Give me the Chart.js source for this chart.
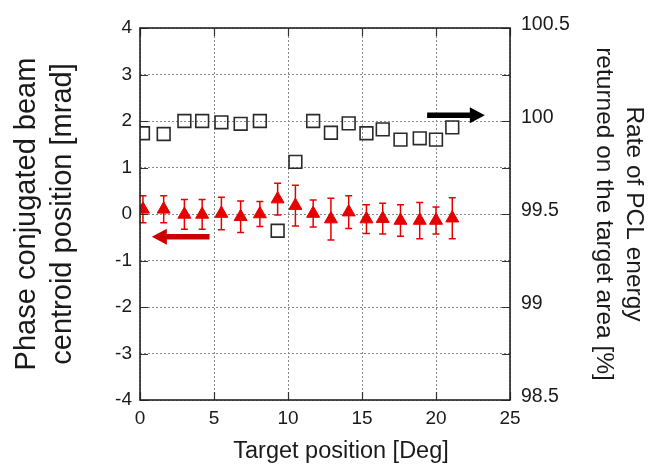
<!DOCTYPE html>
<html>
<head>
<meta charset="utf-8">
<script src="https://cdn.jsdelivr.net/npm/chart.js@4.4.1/dist/chart.umd.min.js"></script>
<style>
  html, body { margin: 0; padding: 0; background: #fff; }
  #wrap { width: 650px; height: 471px; }
</style>
</head>
<body>
<div id="wrap"><canvas id="c" width="650" height="471"></canvas></div>
<script>
// Target positions [deg]
const targetDeg = [0.2, 1.6, 3.0, 4.2, 5.5, 6.8, 8.1, 9.3, 10.5, 11.7, 12.9, 14.1, 15.3, 16.4, 17.6, 18.9, 20.0, 21.1];
// Phase conjugated beam centroid position [mrad] and its error
const centroidMrad = [0.10, 0.10, -0.01, -0.01, 0.01, -0.06, 0.00, 0.32, 0.18, 0.01, -0.11, 0.04, -0.11, -0.10, -0.14, -0.14, -0.14, -0.09];
const centroidErr  = [0.29, 0.29, 0.32, 0.32, 0.35, 0.34, 0.27, 0.34, 0.44, 0.29, 0.45, 0.35, 0.31, 0.33, 0.34, 0.39, 0.29, 0.44];
// Rate of PCL energy returned on the target area [%]
const energyRate = [99.934, 99.930, 100.0, 100.0, 99.993, 99.985, 100.0, 99.41, 99.78, 100.0, 99.937, 99.987, 99.934, 99.955, 99.900, 99.907, 99.900, 99.966];

// Tick values and labels
const xTicks = [0, 5, 10, 15, 20, 25];
const leftTicks = [-4, -3, -2, -1, 0, 1, 2, 3, 4];
const rightTicks = [98.5, 99, 99.5, 100, 100.5];
const rightTickLabels = ['98.5', '99', '99.5', '100', '100.5'];

// Arrows telling which axis each series belongs to (data units)
const axisArrows = [
  { axis: 'y',  from: [4.7, -0.49],    to: [0.8, -0.49],    color: '#cc0000' },
  { axis: 'y1', from: [19.4, 100.031], to: [23.3, 100.031], color: '#000000' }
];

const RED = '#e60000';
const FONT = "'Liberation Sans', Arial, sans-serif";
const TEXT = '#1a1a1a';

const centroidPoints = targetDeg.map((x, i) => ({ x, y: centroidMrad[i] }));
const energyPoints = targetDeg.map((x, i) => ({ x, y: energyRate[i] }));

function drawArrow(ctx, x1, y, x2, color) {
  const dir = Math.sign(x2 - x1);
  const headLen = 15, headHalf = 8, shaftHalf = 2.7;
  const xb = x2 - dir * headLen;
  ctx.save();
  ctx.fillStyle = color;
  ctx.beginPath();
  ctx.moveTo(x1, y - shaftHalf);
  ctx.lineTo(xb, y - shaftHalf);
  ctx.lineTo(xb, y - headHalf);
  ctx.lineTo(x2, y);
  ctx.lineTo(xb, y + headHalf);
  ctx.lineTo(xb, y + shaftHalf);
  ctx.lineTo(x1, y + shaftHalf);
  ctx.closePath();
  ctx.fill();
  ctx.restore();
}

const decorPlugin = {
  id: 'decor',
  beforeDatasetsDraw(chart) {
    const { ctx, scales } = chart;
    const sx = scales.x, sy = scales.y;
    // error bars of the centroid series
    ctx.save();
    ctx.strokeStyle = RED;
    ctx.lineWidth = 1.5;
    targetDeg.forEach((x, i) => {
      const px = sx.getPixelForValue(x);
      const top = sy.getPixelForValue(centroidMrad[i] + centroidErr[i]);
      const bot = sy.getPixelForValue(centroidMrad[i] - centroidErr[i]);
      ctx.beginPath();
      ctx.moveTo(px, top); ctx.lineTo(px, bot);
      ctx.moveTo(px - 3.5, top); ctx.lineTo(px + 3.5, top);
      ctx.moveTo(px - 3.5, bot); ctx.lineTo(px + 3.5, bot);
      ctx.stroke();
    });
    ctx.restore();
  },
  afterDatasetsDraw(chart) {
    const { ctx, chartArea: a, scales } = chart;
    const sx = scales.x;
    // arrows
    axisArrows.forEach(ar => {
      const s = scales[ar.axis];
      drawArrow(ctx, sx.getPixelForValue(ar.from[0]), s.getPixelForValue(ar.from[1]),
                sx.getPixelForValue(ar.to[0]), ar.color);
    });
    // inward tick marks on all four sides
    ctx.save();
    ctx.strokeStyle = '#333';
    ctx.lineWidth = 1.2;
    const tl = 8;
    ctx.beginPath();
    xTicks.forEach(v => {
      const px = Math.round(sx.getPixelForValue(v)) + 0.5;
      ctx.moveTo(px, a.bottom); ctx.lineTo(px, a.bottom - tl);
      ctx.moveTo(px, a.top); ctx.lineTo(px, a.top + tl);
    });
    leftTicks.forEach(v => {
      const py = Math.round(scales.y.getPixelForValue(v)) + 0.5;
      ctx.moveTo(a.left, py); ctx.lineTo(a.left + tl, py);
      ctx.moveTo(a.right, py); ctx.lineTo(a.right - tl, py);
    });
    ctx.stroke();
    // frame
    ctx.lineWidth = 1.6;
    ctx.strokeStyle = '#222';
    ctx.strokeRect(a.left, a.top, a.right - a.left, a.bottom - a.top);
    ctx.restore();
  },
  afterDraw(chart) {
    const { ctx, chartArea: a } = chart;
    ctx.save();
    ctx.fillStyle = TEXT;
    ctx.font = "23.5px " + FONT;
    ctx.textAlign = 'center';
    ctx.textBaseline = 'middle';
    ctx.fillText('Target position [Deg]', (a.left + a.right) / 2 + 16, 452);
    ctx.restore();
  }
};

const gridStyle = {
  display: true,
  color: '#8a8a8a',
  lineWidth: 1,
  drawTicks: false
};

new Chart(document.getElementById('c'), {
  type: 'scatter',
  plugins: [decorPlugin],
  data: {
    datasets: [
      {
        label: 'Rate of PCL energy',
        data: energyPoints,
        yAxisID: 'y1',
        pointStyle: 'rect',
        pointRadius: 9,
        pointHoverRadius: 9,
        backgroundColor: 'rgba(255,255,255,0)',
        borderColor: '#2a2a2a',
        borderWidth: 1.6,
        showLine: false
      },
      {
        label: 'Centroid position',
        data: centroidPoints,
        yAxisID: 'y',
        pointStyle: 'triangle',
        pointRadius: 7.5,
        pointHoverRadius: 7.5,
        backgroundColor: RED,
        borderColor: RED,
        borderWidth: 1,
        showLine: false
      }
    ]
  },
  options: {
    responsive: false,
    animation: false,
    devicePixelRatio: 1,
    layout: { padding: { top: 28, left: 0, right: 0, bottom: 0 } },
    plugins: { legend: { display: false }, tooltip: { enabled: false } },
    scales: {
      x: {
        type: 'linear',
        min: 0, max: 25,
        afterBuildTicks: s => { s.ticks = xTicks.map(v => ({ value: v })); },
        afterFit: s => { s.height = 71; },
        grid: { ...gridStyle },
        border: { display: false, dash: [2, 2] },
        ticks: { color: TEXT, font: { family: FONT, size: 19 }, padding: 7, maxRotation: 0 }
      },
      y: {
        type: 'linear',
        position: 'left',
        min: -4, max: 4,
        afterBuildTicks: s => { s.ticks = leftTicks.map(v => ({ value: v })); },
        afterFit: s => { s.width = 140; },
        grid: { ...gridStyle },
        border: { display: false, dash: [2, 2] },
        ticks: { color: TEXT, font: { family: FONT, size: 19 }, padding: 8 },
        title: {
          display: true,
          text: ['Phase conjugated beam', 'centroid position [mrad]'],
          color: TEXT,
          font: { family: FONT, size: 29, lineHeight: 1.24 },
          padding: { top: 9, bottom: 0 }
        }
      },
      y1: {
        type: 'linear',
        position: 'right',
        min: 98.5, max: 100.5,
        afterBuildTicks: s => { s.ticks = rightTicks.map(v => ({ value: v })); },
        afterFit: s => { s.width = 140; },
        grid: { display: false, drawTicks: false },
        border: { display: false },
        ticks: {
          color: TEXT, font: { family: FONT, size: 19.5 }, padding: 11, labelOffset: -3,
          callback: (v) => rightTickLabels[rightTicks.indexOf(v)]
        },
        title: {
          display: true,
          text: ['Rate of PCL energy', 'returned on the target area [%]'],
          color: TEXT,
          font: { family: FONT, size: 24.5, lineHeight: 1.2 },
          padding: { top: 2, bottom: 0 }
        }
      }
    }
  }
});
</script>
</body>
</html>
